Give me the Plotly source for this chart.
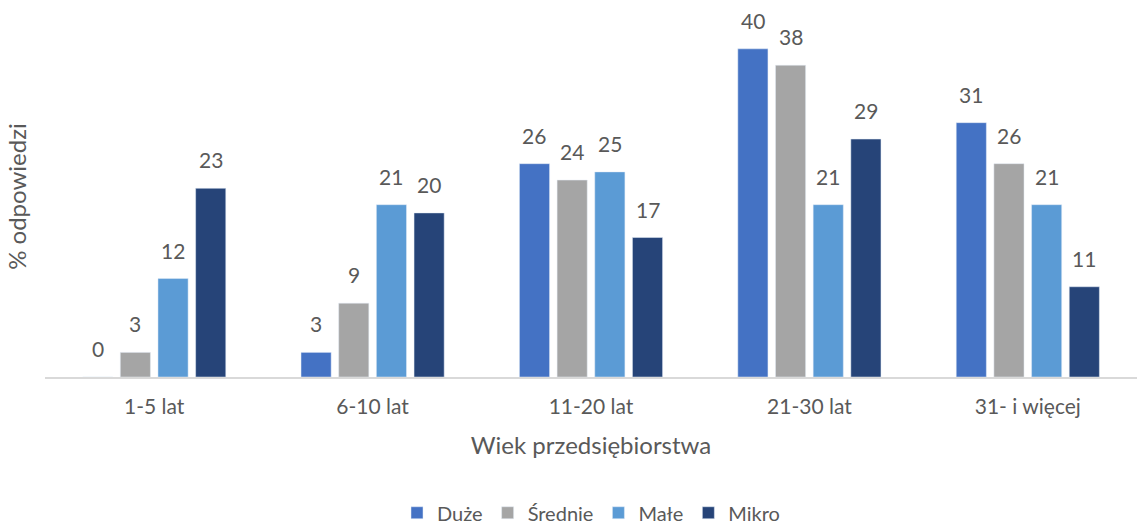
import plotly.graph_objects as go

categories = ["1-5 lat", "6-10 lat", "11-20 lat", "21-30 lat", "31- i więcej"]
series_names = ["Duże", "Średnie", "Małe", "Mikro"]
duze = [0, 3, 26, 40, 31]
srednie = [3, 9, 24, 38, 26]
male = [12, 21, 25, 21, 21]
mikro = [23, 20, 17, 29, 11]
series_values = [duze, srednie, male, mikro]
colors = ["#4472C4", "#A5A5A5", "#5B9BD5", "#264478"]

FONT = "Lato"
TEXT_COLOR = "#595959"
BARGAP = 0.31
GROUPGAP = 0.2

fig = go.Figure()
for name, vals, col in zip(series_names, series_values, colors):
    fig.add_trace(go.Bar(
        name=name, x=categories, y=vals, marker_color=col,
    ))

# value labels placed above each bar centre
n = len(series_names)
slot = (1 - BARGAP) / n
annotations = []
for i, vals in enumerate(series_values):
    for k, v in enumerate(vals):
        annotations.append(dict(
            x=k + (i - (n - 1) / 2) * slot, y=v, xref="x", yref="y",
            text=str(v), showarrow=False, yanchor="bottom", yshift=14,
            font=dict(family=FONT, size=21, color=TEXT_COLOR),
        ))

fig.update_layout(
    width=1137, height=526,
    margin=dict(l=45, r=0, t=16, b=149, autoexpand=False),
    plot_bgcolor="white", paper_bgcolor="white",
    barmode="group", bargap=BARGAP, bargroupgap=GROUPGAP,
    font=dict(family=FONT, color=TEXT_COLOR, size=21),
    annotations=annotations,
    showlegend=True,
    legend=dict(orientation="h", x=0.5, xanchor="center", xref="paper",
                y=-0.322, yanchor="top", yref="paper", font=dict(size=20),
                itemwidth=30, tracegroupgap=0),
    xaxis=dict(
        automargin=False,
        showline=True, linecolor="#D9D9D9", linewidth=1.5,
        ticks="", tickfont=dict(size=21), ticklabelstandoff=10,
        title=dict(text="Wiek przedsiębiorstwa", font=dict(size=24), standoff=20),
    ),
    yaxis=dict(
        automargin=False,
        range=[0, 44], showgrid=False, showticklabels=False, zeroline=False,
        title=dict(text="% odpowiedzi", font=dict(size=24), standoff=10),
    ),
)

fig.write_html("out.html")
